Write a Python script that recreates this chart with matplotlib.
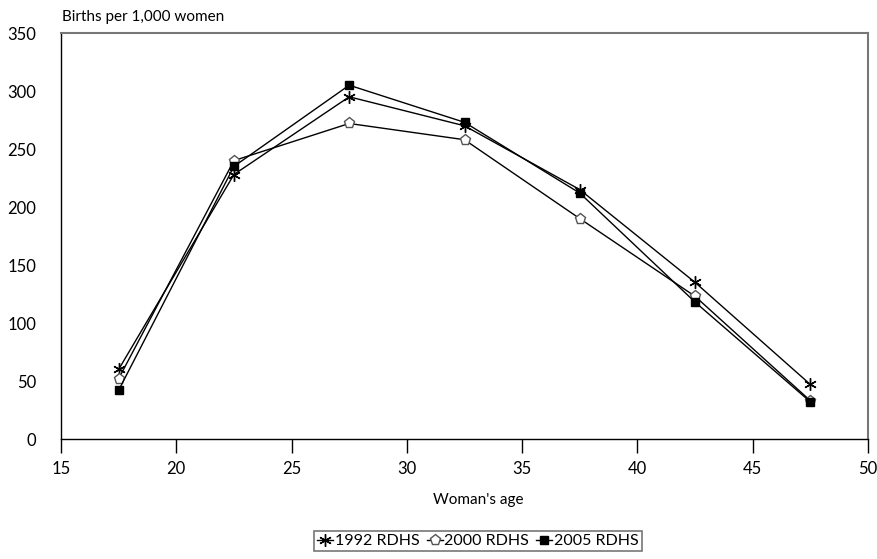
import matplotlib.pyplot as plt

plt.rcParams["font.family"] = ["Lato", "DejaVu Sans"]

ages = [17.5, 22.5, 27.5, 32.5, 37.5, 42.5, 47.5]
rdhs_1992 = [60, 228, 295, 270, 215, 135, 47]
rdhs_2000 = [52, 240, 272, 258, 190, 123, 33]
rdhs_2005 = [42, 235, 305, 273, 212, 118, 32]

fig = plt.figure(figsize=(8.78, 5.59), dpi=100)
ax = fig.add_axes([61 / 878, 1 - 439 / 559, 807 / 878, 406 / 559])

ax.plot(ages, rdhs_1992, color="black", lw=1, marker=(6, 2, 0), ms=9,
        mew=1, label="1992 RDHS")
ax.plot(ages, rdhs_2000, color="black", lw=1, marker="p", ms=8,
        mfc="white", mec="#555555", mew=1, label="2000 RDHS")
ax.plot(ages, rdhs_2005, color="black", lw=1, marker="s", ms=6,
        mfc="black", mec="black", label="2005 RDHS")

ax.set_xlim(15, 50)
ax.set_ylim(0, 350)
ax.set_xticks(range(15, 51, 5))
ax.set_yticks(range(0, 351, 50))
ax.tick_params(axis="x", direction="out", length=10, width=1, labelsize=12, pad=6)
ax.tick_params(axis="y", length=0, labelsize=12, pad=18)

for side in ("top", "right"):
    ax.spines[side].set_color("#777777")
    ax.spines[side].set_linewidth(1.5)
for side in ("left", "bottom"):
    ax.spines[side].set_color("black")
    ax.spines[side].set_linewidth(1)

fig.text(62 / 878, 1 - 17 / 559, "Births per 1,000 women", fontsize=11, va="center", ha="left")
fig.text(478 / 878, 1 - 500 / 559, "Woman's age", fontsize=11, va="center", ha="center")

leg = fig.legend(loc="center", bbox_to_anchor=(478 / 878, 1 - 541 / 559), ncol=3,
                 fontsize=11.5, frameon=True, fancybox=False, handlelength=1.0,
                 handletextpad=0.1, columnspacing=0.45, borderpad=0.2,
                 borderaxespad=0, edgecolor="#555555")
leg.get_frame().set_linewidth(1.2)

fig.savefig("out.png", dpi=100)
